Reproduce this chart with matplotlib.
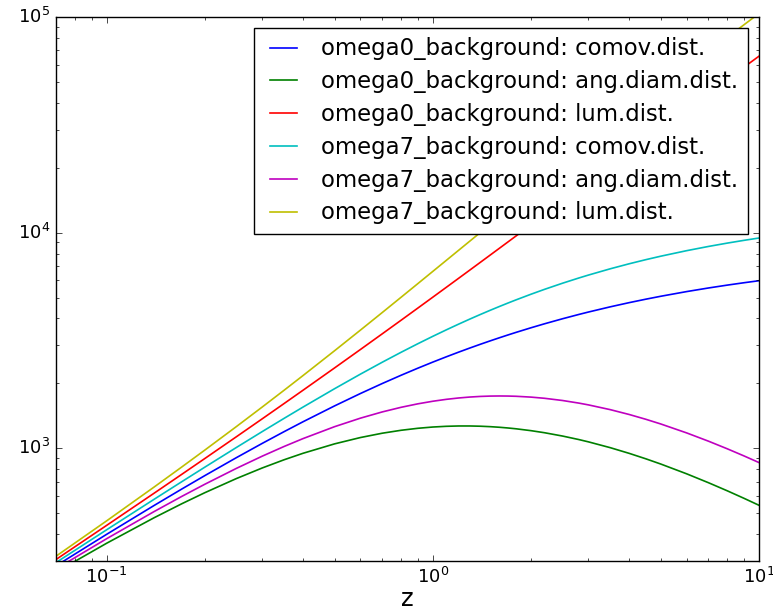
import matplotlib
matplotlib.use("Agg")
import matplotlib.pyplot as plt

plt.style.use('classic')

z = [0.07, 0.1, 0.14, 0.17, 0.2, 0.25, 0.3, 0.35, 0.4, 0.5, 0.6, 0.7, 0.8, 0.9, 1.0, 1.1, 1.2, 1.3,
     1.4, 1.5, 1.6, 1.7, 1.8, 2.0, 2.2, 2.5, 2.8, 3.0, 3.5, 4.0, 4.5, 5.0, 6.0, 7.0, 8.0, 9.0, 10.0]

om0_comov = [284.9, 398.6, 543.1, 646.7, 746.3, 904.3, 1053.0, 1193.5, 1326.4, 1571.8, 1793.9, 1996.1,
             2181.1, 2351.4, 2508.8, 2654.7, 2790.6, 2917.6, 3036.5, 3148.2, 3253.4, 3352.7, 3446.7,
             3620.2, 3777.2, 3987.0, 4171.5, 4282.8, 4527.7, 4734.9, 4913.1, 5068.6, 5328.1, 5537.2,
             5710.3, 5856.8, 5983.0]
om0_ang = [266.3, 362.4, 476.4, 552.7, 621.9, 723.4, 810.0, 884.1, 947.4, 1047.9, 1121.2, 1174.2,
           1211.7, 1237.6, 1254.4, 1264.1, 1268.5, 1268.5, 1265.2, 1259.3, 1251.3, 1241.7, 1231.0,
           1206.7, 1180.4, 1139.1, 1097.8, 1070.7, 1006.2, 947.0, 893.3, 844.8, 761.2, 692.1,
           634.5, 585.7, 543.9]
om0_lum = [304.8, 438.5, 619.2, 756.6, 895.6, 1130.4, 1368.9, 1611.2, 1857.0, 2357.7, 2870.2, 3393.4,
           3926.0, 4467.7, 5017.6, 5574.9, 6139.3, 6710.5, 7287.6, 7870.5, 8458.8, 9052.3, 9650.8,
           10860.6, 12087.0, 13954.5, 15851.7, 17131.0, 20374.7, 23674.0, 27022.1, 30412.0, 37296.7,
           44297.0, 51392.7, 58568.0, 65813.0]
om7_comov = [295.0, 418.4, 580.2, 699.4, 816.7, 1008.1, 1194.4, 1375.5, 1551.5, 1888.6, 2206.3, 2505.7,
             2787.6, 3053.3, 3303.8, 3540.1, 3763.4, 3974.5, 4174.4, 4363.8, 4543.6, 4714.5, 4877.1,
             5179.8, 5455.9, 5827.5, 6156.4, 6355.6, 6796.1, 7170.4, 7493.2, 7775.4, 8246.8, 8627.8,
             8943.1, 9210.3, 9440.6]
om7_ang = [275.7, 380.4, 508.9, 597.8, 680.6, 806.5, 918.8, 1018.9, 1108.2, 1259.1, 1378.9, 1473.9,
           1548.7, 1607.0, 1651.9, 1685.8, 1710.6, 1728.0, 1739.3, 1745.5, 1747.5, 1746.1, 1741.8,
           1726.6, 1705.0, 1665.0, 1620.1, 1588.9, 1510.2, 1434.1, 1362.4, 1295.9, 1178.1, 1078.5,
           993.7, 921.0, 858.2]
om7_lum = [315.7, 460.2, 661.4, 818.3, 980.0, 1260.1, 1552.7, 1856.9, 2172.1, 2832.9, 3530.1, 4259.7,
           5017.7, 5801.3, 6607.6, 7434.2, 8279.5, 9141.4, 10018.6, 10909.5, 11813.4, 12729.0, 13655.9,
           15539.4, 17458.9, 20396.0, 23394.3, 25422.4, 30582.5, 35852.0, 41212.6, 46652.0, 57727.6,
           69022.0, 80487.9, 92103.0, 103847.0]

labels = ["omega0_background: comov.dist.",
          "omega0_background: ang.diam.dist.",
          "omega0_background: lum.dist.",
          "omega7_background: comov.dist.",
          "omega7_background: ang.diam.dist.",
          "omega7_background: lum.dist."]
series = [om0_comov, om0_ang, om0_lum, om7_comov, om7_ang, om7_lum]
colors = ['b', 'g', 'r', 'c', 'm', 'y']

fig = plt.figure(figsize=(7.73, 6.13), dpi=100, facecolor='white')
ax = fig.add_axes([56/773, 52/613, 703/773, 544/613])
for s, lab, c in zip(series, labels, colors):
    ax.plot(z, s, color=c, label=lab, lw=1.2)

ax.set_xscale('log')
ax.set_yscale('log')
ax.set_xlim(0.07, 10)
ax.set_ylim(300, 1e5)
ax.tick_params(labelsize=13)
ax.set_xlabel('z', fontsize=17.5, labelpad=0.5)

leg = ax.legend(loc='upper right', fontsize=16.4, frameon=True, fancybox=False,
                handlelength=1.8, handletextpad=0.75, labelspacing=0.43,
                borderpad=0.4, borderaxespad=0.5)
leg.get_frame().set_edgecolor('black')

fig.savefig('out.png', dpi=100, facecolor='white')
